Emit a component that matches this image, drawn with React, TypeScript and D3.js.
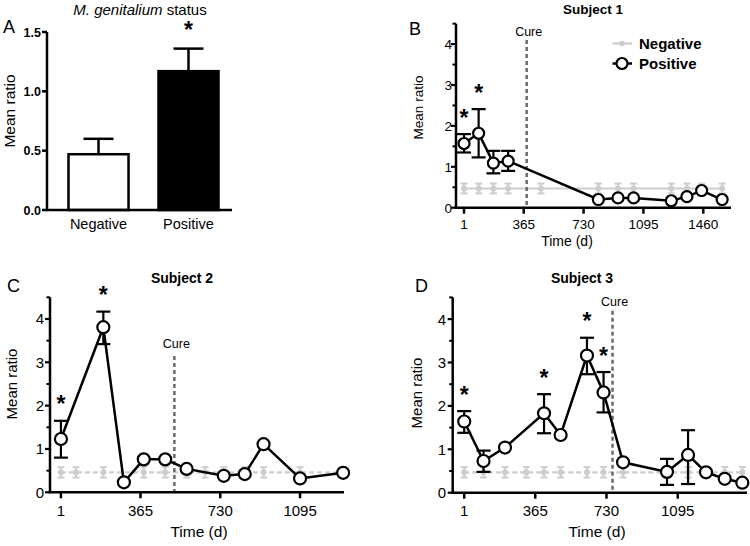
import * as d3 from 'd3';

const FONT = '"Liberation Sans", Arial, Helvetica, sans-serif';
const GRAY = '#cdcdcd';

// Panel A - M. genitalium status
const statusCats = ['Negative', 'Positive'];
const statusMeans = [0.47, 1.17];
const statusErr = [0.13, 0.19];
const statusStar = [false, true];

// Panel B - Subject 1
const s1Days = [1, 90, 180, 270, 820, 940, 1035, 1265, 1360, 1450, 1575];
const s1Pos = [1.57, 1.82, 1.09, 1.14, 0.2, 0.24, 0.24, 0.17, 0.27, 0.42, 0.2];
const s1Lo = [1.35, 1.23, 0.84, 0.9, null, null, null, null, null, null, null];
const s1Hi = [1.8, 2.41, 1.39, 1.39, null, null, null, null, null, null, null];
const s1Star = [true, true, false, false, false, false, false, false, false, false, false];
const s1NegDays = [1, 90, 180, 270, 470, 820, 940, 1035, 1265, 1360, 1450, 1575];
const s1Neg = [0.47, 0.47, 0.47, 0.47, 0.47, 0.47, 0.47, 0.47, 0.47, 0.47, 0.47, 0.47];
const s1NegSem = [0.12, 0.12, 0.12, 0.12, 0.12, 0.12, 0.12, 0.12, 0.12, 0.12, 0.12, 0.12];
const s1Cure = 383;

// Panel C - Subject 2
const s2Days = [1, 195, 289, 380, 478, 576, 746, 842, 928, 1095, 1292];
const s2Pos = [1.23, 3.81, 0.23, 0.76, 0.76, 0.54, 0.38, 0.42, 1.11, 0.32, 0.45];
const s2Lo = [0.8, 3.42, null, null, null, null, null, null, null, null, null];
const s2Hi = [1.65, 4.17, null, null, null, null, null, null, null, null, null];
const s2Star = [true, true, false, false, false, false, false, false, false, false, false];
const s2NegDays = [1, 70, 195, 380, 478, 576, 660, 746, 842, 928, 1095, 1292];
const s2Neg = [0.46, 0.46, 0.46, 0.46, 0.46, 0.46, 0.46, 0.46, 0.46, 0.46, 0.46, 0.46];
const s2NegSem = [0.12, 0.12, 0.12, 0.12, 0.12, 0.12, 0.12, 0.12, 0.12, 0.12, 0.12, 0.12];
const s2Cure = 520;

// Panel D - Subject 3
const s3Days = [1, 100, 210, 410, 495, 630, 715, 815, 1040, 1148, 1240, 1336, 1426];
const s3Pos = [1.64, 0.73, 1.04, 1.83, 1.33, 3.16, 2.31, 0.7, 0.48, 0.87, 0.47, 0.32, 0.23];
const s3Lo = [1.38, 0.48, null, 1.37, null, 2.73, 1.85, null, 0.18, 0.2, null, null, null];
const s3Hi = [1.88, 0.97, null, 2.27, null, 3.57, 2.78, null, 0.78, 1.44, null, null, null];
const s3Star = [true, false, false, true, false, true, true, false, false, false, false, false, false];
const s3NegDays = [1, 100, 210, 319, 410, 495, 630, 715, 815, 1040, 1148, 1240, 1336, 1426];
const s3Neg = [0.47, 0.47, 0.47, 0.47, 0.47, 0.47, 0.47, 0.47, 0.47, 0.47, 0.47, 0.47, 0.47, 0.47];
const s3NegSem = [0.12, 0.12, 0.12, 0.12, 0.12, 0.12, 0.12, 0.12, 0.12, 0.12, 0.12, 0.12, 0.12, 0.12];
const s3Cure = 761;

const timeTicks = [1, 365, 730, 1095, 1460];
const yTicks = [0, 1, 2, 3, 4];
const yMinor = [0.5, 1.5, 2.5, 3.5, 4.5];

function BarPanel() {
  const x = d3.scaleBand().domain(statusCats).range([50.5, 236.5]).paddingInner(0.333).paddingOuter(0.2);
  const y = d3.scaleLinear().domain([0, 1.5]).range([210, 32]);
  const ticks = [0, 0.5, 1, 1.5];
  const bw = x.bandwidth();
  return (
    <g fontFamily={FONT}>
      <text x={3} y={33} fontSize={18}>A</text>
      <text x={140} y={15} fontSize={15} textAnchor="middle">
        <tspan fontStyle="italic">M. genitalium</tspan> status
      </text>
      {statusCats.map((c, i) => {
        const cx = x(c)! + bw / 2;
        const top = y(statusMeans[i] + statusErr[i]);
        return (
          <g key={c}>
            <line x1={cx} x2={cx} y1={y(statusMeans[i])} y2={top} stroke="#000" strokeWidth={2.5} />
            <line x1={cx - 15} x2={cx + 15} y1={top} y2={top} stroke="#000" strokeWidth={2.5} />
            <rect x={x(c)} y={y(statusMeans[i])} width={bw} height={y(0) - y(statusMeans[i])}
              fill={i === 0 ? '#fff' : '#000'} stroke="#000" strokeWidth={2.5} />
            {statusStar[i] && (
              <text x={cx} y={top - 23 + 12.5} fontSize={23} fontWeight="bold" textAnchor="middle">*</text>
            )}
            <text x={cx} y={229} fontSize={14.5} textAnchor="middle">{c}</text>
          </g>
        );
      })}
      <line x1={47} x2={47} y1={y(1.5)} y2={y(0)} stroke="#000" strokeWidth={2.5} />
      <line x1={45.75} x2={232} y1={y(0)} y2={y(0)} stroke="#000" strokeWidth={2.5} />
      {ticks.map(t => (
        <g key={t}>
          <line x1={42} x2={47} y1={y(t)} y2={y(t)} stroke="#000" strokeWidth={2.5} />
          <text x={41} y={y(t)} dy="0.36em" fontSize={12.5} fontWeight="bold" textAnchor="end">{t.toFixed(1)}</text>
        </g>
      ))}
      <text transform="translate(15,111) rotate(-90)" fontSize={15.5} textAnchor="middle">Mean ratio</text>
    </g>
  );
}

type Cfg = {
  letter: string; letterX: number; letterY: number;
  title: string; titleX: number; titleY: number; titleSize: number;
  xRange: [number, number]; xDomain: [number, number];
  yBottom: number; unit: number;
  fs: number; tickLabelY: number; yLabelEnd: number;
  timeX: number; timeY: number; ratioX: number; ratioY: number;
  cureTop: number; cureLabelY: number;
  dashedNeg: boolean; r: number;
  days: number[]; pos: number[]; lo: (number | null)[]; hi: (number | null)[]; star: boolean[];
  negDays: number[]; neg: number[]; negSem: number[]; cure: number;
  legend?: boolean;
};

function TimePanel({ c }: { c: Cfg }) {
  const x = d3.scaleLinear().domain(c.xDomain).range(c.xRange);
  const y = d3.scaleLinear().domain([0, 4]).range([c.yBottom, c.yBottom - 4 * c.unit]);
  const x0 = c.xRange[0];
  const yTop = y(4.5);
  const posLine = d3.line<number>().x((d, i) => x(c.days[i])).y(d => y(d));
  const negLine = d3.line<number>().x((d, i) => x(c.negDays[i])).y(d => y(d));
  return (
    <g fontFamily={FONT}>
      <text x={c.letterX} y={c.letterY} fontSize={18}>{c.letter}</text>
      <text x={c.titleX} y={c.titleY} fontSize={c.titleSize} fontWeight="bold" textAnchor="middle">{c.title}</text>

      {/* Negative reference */}
      <path d={negLine(c.neg)!} fill="none" stroke={GRAY} strokeWidth={2.2} strokeDasharray={c.dashedNeg ? '5,3' : undefined} />
      {c.negDays.map((d, i) => {
        const cx = x(d);
        const t = y(c.neg[i] + c.negSem[i]);
        const b = y(c.neg[i] - c.negSem[i]);
        return (
          <g key={i} stroke={GRAY} strokeWidth={2}>
            <line x1={cx} x2={cx} y1={t} y2={b} />
            <line x1={cx - 3.5} x2={cx + 3.5} y1={t} y2={t} />
            <line x1={cx - 3.5} x2={cx + 3.5} y1={b} y2={b} />
            <circle cx={cx} cy={y(c.neg[i])} r={3} fill={GRAY} stroke="none" />
          </g>
        );
      })}

      {/* Cure */}
      <line x1={x(c.cure)} x2={x(c.cure)} y1={c.cureTop} y2={c.yBottom} stroke="#6a6a6a" strokeWidth={2.5} strokeDasharray="4,3" />
      <text x={x(c.cure) + 2} y={c.cureLabelY} fontSize={12.5} textAnchor="middle">Cure</text>

      {/* Positive */}
      <path d={posLine(c.pos)!} fill="none" stroke="#000" strokeWidth={2.5} />
      {c.days.map((d, i) => {
        const cx = x(d);
        const lo = c.lo[i];
        const hi = c.hi[i];
        return (
          <g key={i}>
            {lo !== null && hi !== null && (
              <g stroke="#000" strokeWidth={2.2}>
                <line x1={cx} x2={cx} y1={y(hi)} y2={y(lo)} />
                <line x1={cx - 7} x2={cx + 7} y1={y(hi)} y2={y(hi)} />
                <line x1={cx - 7} x2={cx + 7} y1={y(lo)} y2={y(lo)} />
              </g>
            )}
            <circle cx={cx} cy={y(c.pos[i])} r={c.r} fill="#fff" stroke="#000" strokeWidth={2.2} />
            {c.star[i] && (
              <text x={cx} y={y(hi !== null ? hi : c.pos[i]) - 21 + 12.5} fontSize={23} fontWeight="bold" textAnchor="middle">*</text>
            )}
          </g>
        );
      })}

      {/* Axes */}
      <line x1={x0} x2={x0} y1={yTop} y2={c.yBottom} stroke="#000" strokeWidth={2.5} />
      <line x1={x0 - 1.25} x2={c.xRange[1]} y1={c.yBottom} y2={c.yBottom} stroke="#000" strokeWidth={2.5} />
      {yTicks.map(t => (
        <g key={t}>
          <line x1={x0 - 5} x2={x0} y1={y(t)} y2={y(t)} stroke="#000" strokeWidth={2.2} />
          <text x={c.yLabelEnd} y={y(t)} dy="0.36em" fontSize={c.fs} textAnchor="end">{t}</text>
        </g>
      ))}
      {yMinor.map(t => (
        <line key={t} x1={x0 - 3.5} x2={x0} y1={y(t)} y2={y(t)} stroke="#000" strokeWidth={2} />
      ))}
      {timeTicks.filter(t => t <= c.xDomain[1]).map(t => (
        <g key={t}>
          <line x1={x(t)} x2={x(t)} y1={c.yBottom} y2={c.yBottom + 6} stroke="#000" strokeWidth={2.5} />
          <text x={x(t)} y={c.tickLabelY} fontSize={c.fs} textAnchor="middle">{t}</text>
        </g>
      ))}
      <text x={c.timeX} y={c.timeY} fontSize={c.fs + 0.5} textAnchor="middle">Time (d)</text>
      <text transform={`translate(${c.ratioX},${c.ratioY}) rotate(-90)`} fontSize={c.fs} textAnchor="middle">Mean ratio</text>

      {c.legend && (
        <g>
          <line x1={612.5} x2={632} y1={43.5} y2={43.5} stroke={GRAY} strokeWidth={2.2} />
          <circle cx={622} cy={43.5} r={2.8} fill={GRAY} />
          <text x={639} y={48.5} fontSize={15} fontWeight="bold">Negative</text>
          <line x1={612.5} x2={632} y1={63.5} y2={63.5} stroke="#000" strokeWidth={2.5} />
          <circle cx={622} cy={63.5} r={5.5} fill="#fff" stroke="#000" strokeWidth={2.2} />
          <text x={639} y={68.5} fontSize={15} fontWeight="bold">Positive</text>
        </g>
      )}
    </g>
  );
}

const panelB: Cfg = {
  letter: 'B', letterX: 409, letterY: 35, title: 'Subject 1', titleX: 593, titleY: 14, titleSize: 13.5,
  xRange: [456, 731], xDomain: [-48, 1629], yBottom: 207.7, unit: 40.9,
  fs: 13.5, tickLabelY: 229, yLabelEnd: 452,
  timeX: 567, timeY: 246, ratioX: 423, ratioY: 107.5,
  cureTop: 40, cureLabelY: 35.5, dashedNeg: false, r: 5.5,
  days: s1Days, pos: s1Pos, lo: s1Lo, hi: s1Hi, star: s1Star,
  negDays: s1NegDays, neg: s1Neg, negSem: s1NegSem, cure: s1Cure, legend: true,
};

const panelC: Cfg = {
  letter: 'C', letterX: 7, letterY: 292, title: 'Subject 2', titleX: 182, titleY: 283, titleSize: 14,
  xRange: [50, 344], xDomain: [-49, 1296], yBottom: 492.3, unit: 43.33,
  fs: 15, tickLabelY: 516, yLabelEnd: 44,
  timeX: 199, timeY: 537, ratioX: 16.5, ratioY: 384,
  cureTop: 356, cureLabelY: 348, dashedNeg: true, r: 6,
  days: s2Days, pos: s2Pos, lo: s2Lo, hi: s2Hi, star: s2Star,
  negDays: s2NegDays, neg: s2Neg, negSem: s2NegSem, cure: s2Cure,
};

const panelD: Cfg = {
  letter: 'D', letterX: 415, letterY: 292, title: 'Subject 3', titleX: 582, titleY: 283, titleSize: 14,
  xRange: [452.7, 747], xDomain: [-58, 1450], yBottom: 492.7, unit: 43.4,
  fs: 15, tickLabelY: 516, yLabelEnd: 446,
  timeX: 597, timeY: 537, ratioX: 421.5, ratioY: 393,
  cureTop: 310.7, cureLabelY: 305.5, dashedNeg: true, r: 6,
  days: s3Days, pos: s3Pos, lo: s3Lo, hi: s3Hi, star: s3Star,
  negDays: s3NegDays, neg: s3Neg, negSem: s3NegSem, cure: s3Cure,
};

export default function App() {
  return (
    <svg width={750} height={546} style={{ position: 'absolute', left: 0, top: 0, background: '#fff' }}>
      <BarPanel />
      <TimePanel c={panelB} />
      <TimePanel c={panelC} />
      <TimePanel c={panelD} />
    </svg>
  );
}
